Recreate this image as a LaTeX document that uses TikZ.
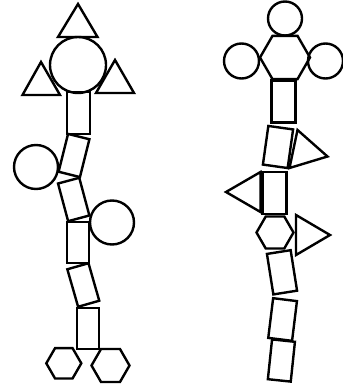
\documentclass[tikz,border=0pt]{standalone}
\usetikzlibrary{shapes.geometric}
\begin{document}
\begin{tikzpicture}[x=1pt,y=1pt,line width=2.4pt,
  blk/.style={draw,rectangle,inner sep=0pt},
  ring/.style={draw,circle,inner sep=0pt}]
\useasboundingbox (0,0) rectangle (342,-387);
% ---------- left figure ----------
\draw (78,-4) -- (58,-37) -- (97.5,-37) -- cycle;
\node[ring,minimum size=56pt] (lc1) at (78,-65) {};
\draw (41,-62) -- (22.5,-95) -- (60,-95) -- cycle;
\draw (115,-60) -- (96,-93) -- (134,-93) -- cycle;
\node[blk,minimum width=23pt,minimum height=42pt] (lr1) at (78.5,-113) {};
\node[blk,minimum width=22pt,minimum height=39pt,rotate=-14] (lr2) at (74,-155.5) {};
\node[ring,minimum size=44pt] (lc2) at (36,-167) {};
\node[blk,minimum width=22pt,minimum height=39pt,rotate=15] (lr3) at (73.7,-199.5) {};
\node[ring,minimum size=44pt] (lc3) at (112,-222.5) {};
\node[blk,minimum width=22pt,minimum height=41pt] (lr4) at (78,-242.5) {};
\node[blk,minimum width=22pt,minimum height=39pt,rotate=16] (lr5) at (83.3,-285) {};
\node[blk,minimum width=22pt,minimum height=41pt] (lr6) at (88,-328.5) {};
\draw (63.8,-363.3) +(0:17.5) -- +(60:17.5) -- +(120:17.5) -- +(180:17.5) -- +(240:17.5) -- +(300:17.5) -- cycle;
\draw (110.5,-365.5) +(0:19) -- +(60:19) -- +(120:19) -- +(180:19) -- +(240:19) -- +(300:19) -- cycle;
% ---------- right figure ----------
\node[ring,minimum size=34pt] (rc1) at (285,-18.5) {};
\draw (285,-57.5) +(0:25) -- +(60:25) -- +(120:25) -- +(180:25) -- +(240:25) -- +(300:25) -- cycle;
\node[ring,minimum size=35pt] (rc2) at (241.5,-61) {};
\node[ring,minimum size=35pt] (rc3) at (325.5,-61) {};
\node[blk,minimum width=24pt,minimum height=42pt] (rr1) at (283.5,-101.5) {};
\node[blk,minimum width=25pt,minimum height=39pt,rotate=-8] (rr2) at (278,-147) {};
\draw (297.5,-130) -- (289.5,-168) -- (327.5,-156.5) -- cycle;
\node[blk,minimum width=24pt,minimum height=42pt] (rr3) at (274.5,-193) {};
\draw (226,-192) -- (260.5,-172) -- (260.5,-212) -- cycle;
\draw (275,-232.5) +(0:18.5) -- +(60:18.5) -- +(120:18.5) -- +(180:18.5) -- +(240:18.5) -- +(300:18.5) -- cycle;
\draw (296,-215) -- (296,-255) -- (330,-235) -- cycle;
\node[blk,minimum width=24pt,minimum height=41pt,rotate=9] (rr4) at (282,-272.3) {};
\node[blk,minimum width=24pt,minimum height=40pt,rotate=-7] (rr5) at (282.6,-319.5) {};
\node[blk,minimum width=23pt,minimum height=40pt,rotate=-6] (rr6) at (281.4,-360.5) {};
\end{tikzpicture}
\end{document}
